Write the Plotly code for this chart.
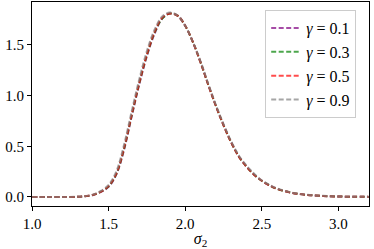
import plotly.graph_objects as go

sigma = [1.0, 1.1, 1.2, 1.3, 1.35, 1.4, 1.45, 1.5, 1.55, 1.6, 1.65, 1.7, 1.75, 1.8,
         1.85, 1.9, 1.95, 2.0, 2.05, 2.1, 2.15, 2.2, 2.25, 2.3, 2.35, 2.4, 2.45,
         2.5, 2.55, 2.6, 2.7, 2.8, 2.9, 3.0, 3.1, 3.2]

dens_g01 = [0, 0, 0, 0.002, 0.008, 0.02, 0.05, 0.10, 0.22, 0.46, 0.79, 1.11, 1.39, 1.61,
            1.76, 1.81, 1.79, 1.69, 1.53, 1.33, 1.11, 0.90, 0.71, 0.54, 0.40, 0.30, 0.22,
            0.16, 0.115, 0.08, 0.04, 0.02, 0.01, 0.005, 0.002, 0.001]
dens_g03 = [0, 0, 0, 0.002, 0.008, 0.021, 0.052, 0.105, 0.225, 0.47, 0.80, 1.12, 1.40, 1.62,
            1.76, 1.81, 1.79, 1.69, 1.53, 1.33, 1.11, 0.90, 0.71, 0.54, 0.40, 0.30, 0.22,
            0.16, 0.115, 0.08, 0.04, 0.02, 0.01, 0.005, 0.002, 0.001]
dens_g05 = [0, 0, 0, 0.002, 0.009, 0.022, 0.054, 0.11, 0.23, 0.48, 0.81, 1.13, 1.41, 1.63,
            1.77, 1.81, 1.79, 1.69, 1.53, 1.33, 1.11, 0.90, 0.71, 0.54, 0.40, 0.30, 0.22,
            0.16, 0.115, 0.08, 0.04, 0.02, 0.01, 0.005, 0.002, 0.001]
dens_g09 = [0, 0, 0, 0.003, 0.01, 0.025, 0.06, 0.12, 0.25, 0.51, 0.84, 1.16, 1.44, 1.65,
            1.78, 1.82, 1.79, 1.69, 1.53, 1.34, 1.12, 0.91, 0.72, 0.55, 0.41, 0.31, 0.23,
            0.165, 0.12, 0.085, 0.042, 0.021, 0.011, 0.005, 0.002, 0.001]

labels = ["<i>γ</i>\u00a0=\u00a00.1", "<i>γ</i>\u00a0=\u00a00.3",
          "<i>γ</i>\u00a0=\u00a00.5", "<i>γ</i>\u00a0=\u00a00.9"]
series = [dens_g01, dens_g03, dens_g05, dens_g09]
colors = ["rgba(128,0,128,0.7)", "rgba(0,128,0,0.7)", "rgba(255,0,0,0.7)", "rgba(128,128,128,0.7)"]

fig = go.Figure()
for lab, ys, c in zip(labels, series, colors):
    fig.add_trace(go.Scatter(x=sigma, y=ys, mode="lines", name=lab,
                             line=dict(color=c, width=2, dash="5px,2.5px", shape="spline")))

font = "Liberation Serif"
fig.update_layout(
    width=374, height=249,
    margin=dict(l=32, r=5, t=2, b=43),
    plot_bgcolor="white", paper_bgcolor="white",
    font=dict(family=font, size=15, color="black"),
    showlegend=True,
    legend=dict(x=0.962, y=0.96, xanchor="right", yanchor="top",
                bgcolor="rgba(255,255,255,0.8)", bordercolor="#cccccc", borderwidth=1,
                font=dict(family=font, size=16), tracegroupgap=0, itemwidth=30),
    xaxis=dict(range=[1.0, 3.2], tickvals=[1.0, 1.5, 2.0, 2.5, 3.0], tickformat=".1f",
               showgrid=False, zeroline=False, showline=True, linecolor="black", linewidth=1,
               mirror=True, ticks="outside", ticklen=4, tickcolor="black", automargin=False,
               tickfont=dict(family=font, size=15),
               title=dict(text="<i>σ</i><sub>2</sub>", standoff=3, font=dict(family=font, size=16))),
    yaxis=dict(range=[-0.089, 1.924], tickvals=[0.0, 0.5, 1.0, 1.5], tickformat=".1f",
               showgrid=False, zeroline=False, showline=True, linecolor="black", linewidth=1,
               mirror=True, ticks="outside", ticklen=4, tickcolor="black", automargin=False,
               tickfont=dict(family=font, size=15)),
)
fig.write_html("out.html", config={"displayModeBar": False},
               post_script="document.body.style.margin='0';document.body.style.overflow='hidden';")
